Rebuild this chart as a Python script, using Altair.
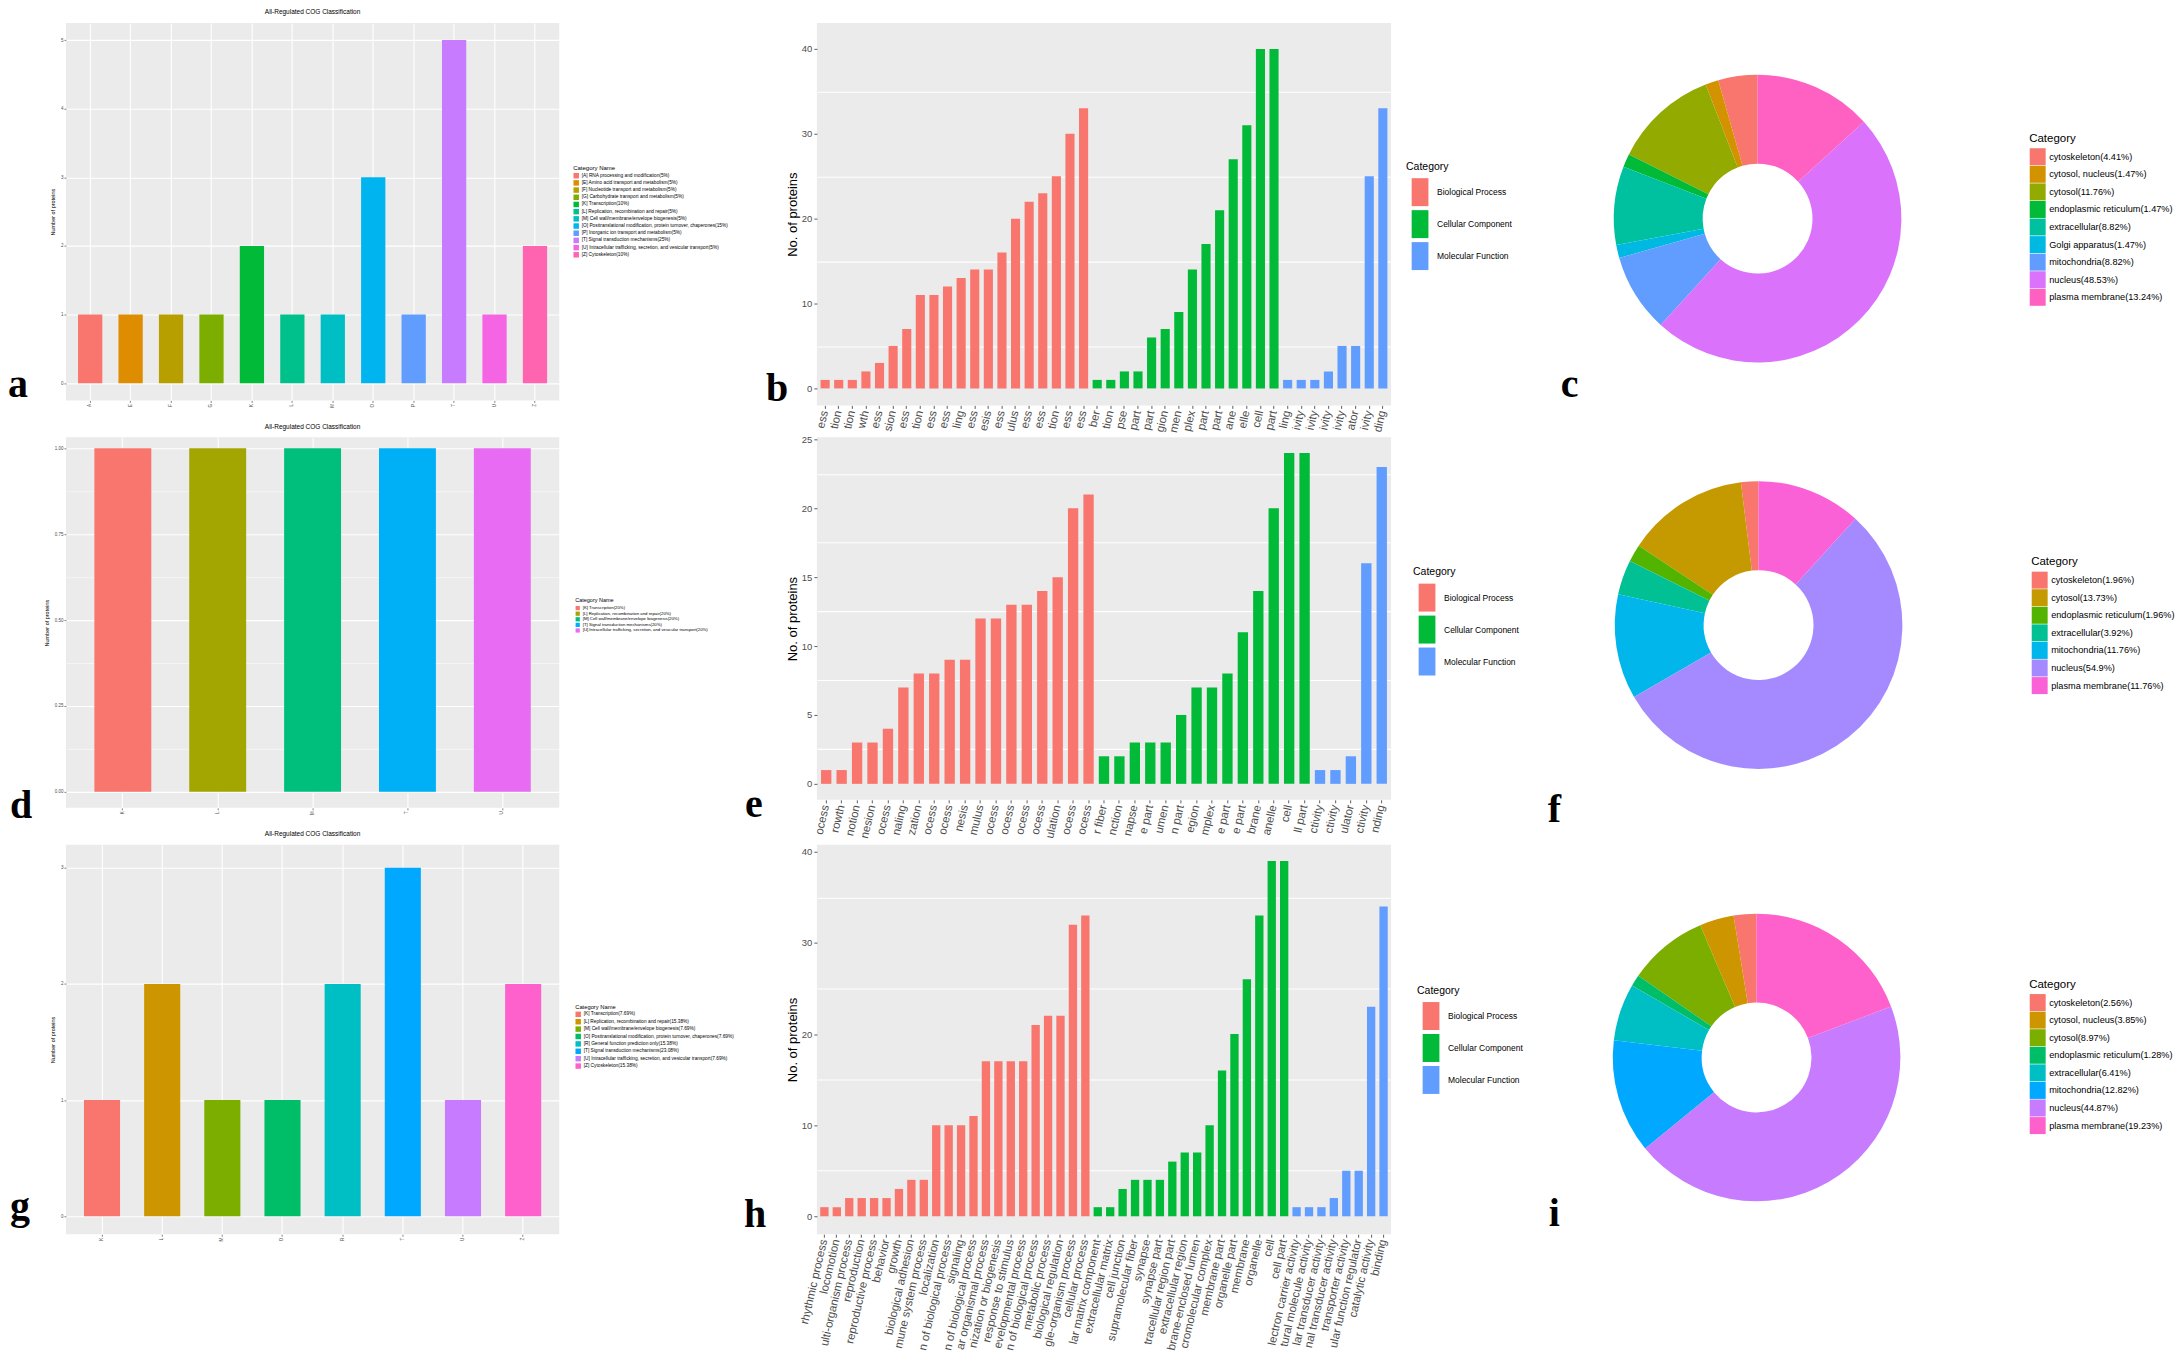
import json
import pandas as pd
import altair as alt

SANS = "Liberation Sans"
SERIF = "Liberation Serif"

# ---------------- panel a (COG) ----------------
a_codes = ["A", "E", "F", "G", "K", "L", "M", "O", "P", "T", "U", "Z"]
a_counts = [1, 1, 1, 1, 2, 1, 1, 3, 1, 5, 1, 2]
a_names = [
    "[A] RNA processing and modification(5%)",
    "[E] Amino acid transport and metabolism(5%)",
    "[F] Nucleotide transport and metabolism(5%)",
    "[G] Carbohydrate transport and metabolism(5%)",
    "[K] Transcription(10%)",
    "[L] Replication, recombination and repair(5%)",
    "[M] Cell wall/membrane/envelope biogenesis(5%)",
    "[O] Posttranslational modification, protein turnover, chaperones(15%)",
    "[P] Inorganic ion transport and metabolism(5%)",
    "[T] Signal transduction mechanisms(25%)",
    "[U] Intracellular trafficking, secretion, and vesicular transport(5%)",
    "[Z] Cytoskeleton(10%)",
]
a_colors = ["#F8766D", "#DE8C00", "#B79F00", "#7CAE00", "#00BA38", "#00C08B",
            "#00BFC4", "#00B4F0", "#619CFF", "#C77CFF", "#F564E3", "#FF64B0"]

# ---------------- panel d (COG) ----------------
d_codes = ["K", "L", "M", "T", "U"]
d_counts = [1, 1, 1, 1, 1]
d_names = [
    "[K] Transcription(20%)",
    "[L] Replication, recombination and repair(20%)",
    "[M] Cell wall/membrane/envelope biogenesis(20%)",
    "[T] Signal transduction mechanisms(20%)",
    "[U] Intracellular trafficking, secretion, and vesicular transport(20%)",
]
d_colors = ["#F8766D", "#A3A500", "#00BF7D", "#00B0F6", "#E76BF3"]

# ---------------- panel g (COG) ----------------
g_codes = ["K", "L", "M", "O", "R", "T", "U", "Z"]
g_counts = [1, 2, 1, 1, 2, 3, 1, 2]
g_names = [
    "[K] Transcription(7.69%)",
    "[L] Replication, recombination and repair(15.38%)",
    "[M] Cell wall/membrane/envelope biogenesis(7.69%)",
    "[O] Posttranslational modification, protein turnover, chaperones(7.69%)",
    "[R] General function prediction only(15.38%)",
    "[T] Signal transduction mechanisms(23.08%)",
    "[U] Intracellular trafficking, secretion, and vesicular transport(7.69%)",
    "[Z] Cytoskeleton(15.38%)",
]
g_colors = ["#F8766D", "#CD9600", "#7CAE00", "#00BE67", "#00BFC4", "#00A9FF", "#C77CFF", "#FF61CC"]

# ---------------- GO panels ----------------
go_cats = ["Biological Process", "Cellular Component", "Molecular Function"]
go_colors = ["#F8766D", "#00BA38", "#619CFF"]

b_bp_counts = [1, 1, 1, 2, 3, 5, 7, 11, 11, 12, 13, 14, 14, 16, 20, 22, 23, 25, 30, 33]
b_cc_counts = [1, 1, 2, 2, 6, 7, 9, 14, 17, 21, 27, 31, 40, 40]
b_mf_counts = [1, 1, 1, 2, 5, 5, 25, 33]
b_bp_labels = ["ess", "tion", "tion", "wth", "ess", "sion", "ess", "tion", "ess", "ess",
               "ling", "ess", "esis", "ess", "ulus", "ess", "ess", "tion", "ess", "ess"]
b_cc_labels = ["ber", "tion", "pse", "part", "part", "gion", "men", "plex", "part", "part",
               "ane", "elle", "cell", "part"]
b_mf_labels = ["ling", "ivity", "ivity", "ivity", "ivity", "ator", "ivity", "ding"]

e_bp_counts = [1, 1, 3, 3, 4, 7, 8, 8, 9, 9, 12, 12, 13, 13, 14, 15, 20, 21]
e_cc_counts = [2, 2, 3, 3, 3, 5, 7, 7, 8, 11, 14, 20, 24, 24]
e_mf_counts = [1, 1, 2, 16, 23]
e_bp_labels = ["ocess", "rowth", "notion", "nesion", "ocess", "naling", "zation", "ocess", "ocess",
               "nesis", "mulus", "ocess", "ocess", "ocess", "ocess", "ulation", "ocess", "ocess"]
e_cc_labels = ["r fiber", "nction", "napse", "e part", "umen", "n part", "egion", "mplex",
               "e part", "e part", "brane", "anelle", "cell", "ll part"]
e_mf_labels = ["ctivity", "ctivity", "ulator", "ctivity", "nding"]

h_bp_counts = [1, 1, 2, 2, 2, 2, 3, 4, 4, 10, 10, 10, 11, 17, 17, 17, 17, 21, 22, 22, 32, 33]
h_cc_counts = [1, 1, 3, 4, 4, 4, 6, 7, 7, 10, 16, 20, 26, 33, 39, 39]
h_mf_counts = [1, 1, 1, 2, 5, 5, 23, 34]
h_bp_labels = ["rhythmic process", "locomotion", "ulti-organism process", "reproduction",
               "reproductive process", "behavior", "growth", "biological adhesion",
               "mune system process", "localization", "n of biological process", "signaling",
               "n of biological process", "ar organismal process", "nization or biogenesis",
               "response to stimulus", "evelopmental process", "n of biological process",
               "metabolic process", "biological regulation", "gle-organism process",
               "cellular process"]
h_cc_labels = ["lar matrix component", "extracellular matrix", "cell junction",
               "supramolecular fiber", "synapse", "synapse part", "tracellular region part",
               "extracellular region", "brane-enclosed lumen", "cromolecular complex",
               "membrane part", "organelle part", "membrane", "organelle", "cell", "cell part"]
h_mf_labels = ["lectron carrier activity", "tural molecule activity", "lar transducer activity",
               "nal transducer activity", "transporter activity", "ular function regulator",
               "catalytic activity", "binding"]

# ---------------- donut panels ----------------
c_labels = ["cytoskeleton(4.41%)", "cytosol, nucleus(1.47%)", "cytosol(11.76%)",
            "endoplasmic reticulum(1.47%)", "extracellular(8.82%)", "Golgi apparatus(1.47%)",
            "mitochondria(8.82%)", "nucleus(48.53%)", "plasma membrane(13.24%)"]
c_counts = [3, 1, 8, 1, 6, 1, 6, 33, 9]
c_colors = ["#F8766D", "#D39200", "#93AA00", "#00BA38", "#00C19F", "#00B9E3",
            "#619CFF", "#DB72FB", "#FF61C3"]

f_labels = ["cytoskeleton(1.96%)", "cytosol(13.73%)", "endoplasmic reticulum(1.96%)",
            "extracellular(3.92%)", "mitochondria(11.76%)", "nucleus(54.9%)",
            "plasma membrane(11.76%)"]
f_counts = [1, 7, 1, 2, 6, 28, 6]
f_colors = ["#F8766D", "#C49A00", "#53B400", "#00C094", "#00B6EB", "#A58AFF", "#FB61D7"]

i_labels = ["cytoskeleton(2.56%)", "cytosol, nucleus(3.85%)", "cytosol(8.97%)",
            "endoplasmic reticulum(1.28%)", "extracellular(6.41%)", "mitochondria(12.82%)",
            "nucleus(44.87%)", "plasma membrane(19.23%)"]
i_counts = [2, 3, 7, 1, 5, 10, 35, 15]
i_colors = ["#F8766D", "#CD9600", "#7CAE00", "#00BE67", "#00BFC4", "#00A9FF", "#C77CFF", "#FF61CC"]


def letter_layer(letter, dx, dy):
    return alt.Chart(alt.Data(values=[{"t": letter}])).mark_text(
        font=SERIF, fontWeight="bold", fontSize=40, align="left",
        baseline="alphabetic", color="black"
    ).encode(text="t:N", x=alt.value(dx), y=alt.value(dy))


def cog_chart(codes, counts, names, colors, ydom, majors, minors, yfmt, h, leg, letter):
    df = pd.DataFrame({"code": codes, "count": counts, "name": names})
    test = "indexof(" + json.dumps(majors) + ", datum.value) >= 0"
    vals = sorted(majors + minors)
    bars = alt.Chart(df).mark_bar().encode(
        x=alt.X("code:N", sort=codes, title=None,
                scale=alt.Scale(paddingInner=0.4, paddingOuter=0.3),
                axis=alt.Axis(labelAngle=-90, labelFontSize=4.5, labelColor="#4D4D4D",
                              labelPadding=1, tickSize=2, tickColor="#333333", tickWidth=0.6,
                              grid=True, gridColor="white", gridWidth=1.1, bandPosition=0.5,
                              domain=False)),
        y=alt.Y("count:Q", title="Number of proteins",
                scale=alt.Scale(domain=ydom, nice=False, zero=False),
                axis=alt.Axis(values=vals, format=yfmt,
                              labelExpr=test + " ? datum.label : ''",
                              labelFontSize=4.5, labelColor="#4D4D4D", labelPadding=1,
                              tickSize=2, tickColor="#333333", tickWidth=0.6,
                              tickOpacity={"condition": {"test": test, "value": 1}, "value": 0},
                              grid=True, gridColor="white",
                              gridWidth={"condition": {"test": test, "value": 1.1}, "value": 0.5},
                              domain=False, titleFontSize=5.5, titleFontWeight="normal",
                              titleColor="black", titlePadding=5)),
        color=alt.Color("name:N", scale=alt.Scale(domain=names, range=colors),
                        legend=alt.Legend(title="Category Name", orient="none",
                                          legendX=leg["x"], legendY=leg["y"], direction="vertical",
                                          padding=0, titleFontSize=leg["title"],
                                          titleFontWeight="normal", titleColor="black",
                                          titlePadding=2, labelFontSize=leg["label"],
                                          labelColor="black", labelLimit=600, labelOffset=2.5,
                                          symbolType="square", symbolSize=leg["sym"],
                                          symbolStrokeWidth=0, symbolOpacity=1,
                                          rowPadding=leg["row"])),
    )
    return alt.layer(bars, letter_layer(*letter)).properties(
        width=494, height=h,
        title=alt.TitleParams("All-Regulated COG Classification", fontSize=6.5,
                              fontWeight="normal", color="black", offset=7, anchor="middle",
                              font=SANS),
        view=alt.ViewBackground(fill="#EBEBEB", strokeWidth=0),
    )


def go_chart(bp_c, cc_c, mf_c, bp_l, cc_l, mf_l, ydom, majors, minors, h, leg, letter):
    counts = bp_c + cc_c + mf_c
    cats = ([go_cats[0]] * len(bp_c) + [go_cats[1]] * len(cc_c) + [go_cats[2]] * len(mf_c))
    labels = bp_l + cc_l + mf_l
    df = pd.DataFrame({"idx": list(range(len(counts))), "count": counts, "cat": cats})
    test = "indexof(" + json.dumps(majors) + ", datum.value) >= 0"
    vals = sorted(majors + minors)
    bars = alt.Chart(df).mark_bar().encode(
        x=alt.X("idx:O", title=None,
                scale=alt.Scale(paddingInner=0.33, paddingOuter=0.27),
                axis=alt.Axis(labelExpr=json.dumps(labels) + "[datum.value]",
                              labelAngle=-77, labelFontSize=11.5, labelColor="#4D4D4D",
                              labelPadding=2, labelLimit=400, labelOverlap=False,
                              tickSize=3, tickColor="#333333", tickWidth=0.8,
                              grid=False, domain=False)),
        y=alt.Y("count:Q", title="No. of proteins",
                scale=alt.Scale(domain=ydom, nice=False, zero=False),
                axis=alt.Axis(values=vals, format="d",
                              labelExpr=test + " ? datum.label : ''",
                              labelFontSize=9.5, labelColor="#4D4D4D",
                              labelPadding=2, tickSize=3, tickColor="#333333", tickWidth=0.8,
                              tickOpacity={"condition": {"test": test, "value": 1}, "value": 0},
                              grid=True, gridColor="white", gridWidth=1.1,
                              gridOpacity={"condition": {"test": test, "value": 0}, "value": 1},
                              domain=False, titleFontSize=13, titleFontWeight="normal",
                              titleColor="black", titlePadding=2)),
        color=alt.Color("cat:N", scale=alt.Scale(domain=go_cats, range=go_colors),
                        legend=alt.Legend(title="Category", orient="none",
                                          legendX=leg["x"], legendY=leg["y"], direction="vertical",
                                          padding=0, titleFontSize=10.5, titleFontWeight="normal",
                                          titleColor="black", titlePadding=6, labelFontSize=8.5,
                                          labelColor="black", labelLimit=400,
                                          labelOffset=3,
                                          symbolType="M-0.6,-1L0.6,-1L0.6,1L-0.6,1Z",
                                          symbolSize=784, symbolStrokeWidth=0, symbolOpacity=1,
                                          rowPadding=4)),
    )
    return alt.layer(bars, letter_layer(*letter)).properties(
        width=575, height=h,
        view=alt.ViewBackground(fill="#EBEBEB", strokeWidth=0),
    )


def donut_chart(labels, counts, colors, h, center, leg, letter):
    n = len(labels)
    df = pd.DataFrame({"name": labels, "count": counts, "ord": list(range(n))[::-1]})
    arc = alt.Chart(df).mark_arc(innerRadius=55, outerRadius=144).encode(
        theta=alt.Theta("count:Q"),
        order=alt.Order("ord:Q", sort="ascending"),
        x=alt.value(center[0]),
        y=alt.value(center[1]),
        color=alt.Color("name:N", scale=alt.Scale(domain=labels, range=colors),
                        legend=alt.Legend(title="Category", orient="none",
                                          legendX=leg["x"], legendY=leg["y"], direction="vertical",
                                          padding=0, titleFontSize=11.5, titleFontWeight="normal",
                                          titleColor="black", titlePadding=4, labelFontSize=9.2,
                                          labelColor="black", labelLimit=400,
                                          labelOffset=3,
                                          symbolType="M-0.94,-1L0.94,-1L0.94,1L-0.94,1Z",
                                          symbolSize=289, symbolStrokeWidth=0, symbolOpacity=1,
                                          rowPadding=0.6)),
    )
    return alt.layer(arc, letter_layer(*letter)).properties(
        width=218, height=h,
        view=alt.ViewBackground(fill="white", strokeWidth=0),
    )


# row tops: 22, 437, 845 (page px); row spacing 32
pa = cog_chart(a_codes, a_counts, a_names, a_colors, [-0.25, 5.25],
               [0, 1, 2, 3, 4, 5], [0.5, 1.5, 2.5, 3.5, 4.5], "d", 378,
               {"x": 508, "y": 142, "title": 6, "label": 4.8, "sym": 30, "row": 1.2},
               ("a", -58, 375))
pd_ = cog_chart(d_codes, d_counts, d_names, d_colors, [-0.0465, 1.032],
                [0, 0.25, 0.5, 0.75, 1.0], [0.125, 0.375, 0.625, 0.875], ".2f", 371,
                {"x": 510, "y": 161, "title": 5.5, "label": 4.3, "sym": 18, "row": 0.6},
                ("d", -56, 381))
pg = cog_chart(g_codes, g_counts, g_names, g_colors, [-0.1547, 3.198],
               [0, 1, 2, 3], [0.5, 1.5, 2.5], "d", 390,
               {"x": 510, "y": 159, "title": 5.8, "label": 4.8, "sym": 30, "row": 1.4},
               ("g", -56, 375))

pb = go_chart(b_bp_counts, b_cc_counts, b_mf_counts, b_bp_labels, b_cc_labels, b_mf_labels,
              [-2, 43.06], [0, 10, 20, 30, 40], [5, 15, 25, 35], 383,
              {"x": 590, "y": 139}, ("b", -51, 379))
pe = go_chart(e_bp_counts, e_cc_counts, e_mf_counts, e_bp_labels, e_cc_labels, e_mf_labels,
              [-1.16, 25.145], [0, 5, 10, 15, 20, 25], [2.5, 7.5, 12.5, 17.5, 22.5], 363,
              {"x": 597, "y": 130}, ("e", -72, 380))
ph = go_chart(h_bp_counts, h_cc_counts, h_mf_counts, h_bp_labels, h_cc_labels, h_mf_labels,
              [-1.97, 40.77], [0, 10, 20, 30, 40], [5, 15, 25, 35], 390,
              {"x": 601, "y": 141}, ("h", -73, 383))

pc = donut_chart(c_labels, c_counts, c_colors, 378, (109, 196), {"x": 381, "y": 110},
                 ("c", -88, 375))
pf = donut_chart(f_labels, f_counts, f_colors, 376, (110, 188), {"x": 383, "y": 119},
                 ("f", -101, 385))
pi_ = donut_chart(i_labels, i_counts, i_colors, 390, (108, 213), {"x": 381, "y": 134},
                  ("i", -100, 382))

chart = alt.concat(
    pa, pb, pc, pd_, pe, pf, pg, ph, pi_,
    columns=3, spacing={"row": 32, "column": 258}, align="none", bounds="flush",
).resolve_scale(
    x="independent", y="independent", color="independent", theta="independent"
).resolve_legend(color="independent").properties(
    padding=0
).configure_axis(
    labelFont=SANS, titleFont=SANS
).configure_legend(
    titleFont=SANS, labelFont=SANS
).configure_title(font=SANS)

chart.save("out.html", embed_options={"renderer": "svg", "actions": False})
